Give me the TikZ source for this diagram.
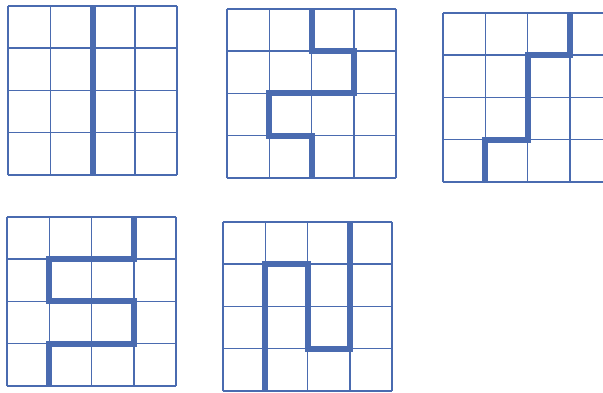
\documentclass[tikz,border=0pt]{standalone}
\usepackage{xcolor}
\definecolor{gridblue}{HTML}{4A6BB0}

\begin{document}
\begin{tikzpicture}[x=1pt, y=1pt,
  cellgrid/.style={draw=gridblue, line width=1.5pt},
  route/.style={draw=gridblue, line width=6pt, line join=miter}
]
\useasboundingbox (0,0) rectangle (603,392);

% five 4x4 boards, lower left corners
\foreach \bx/\by [count=\k] in {8/217, 227/214, 443/210, 7/6, 223/1} {
  \begin{scope}[shift={(\bx,\by)}, x=42.3pt, y=42.3pt]
    \foreach \i in {0,...,4} {
      \draw[cellgrid] (\i,0) -- (\i,4);
      \draw[cellgrid] (0,\i) -- (4,\i);
    }
    \coordinate (b\k) at (0,0);
  \end{scope}
}

% routes
\begin{scope}[shift={(b1)}, x=42.3pt, y=42.3pt]
  \draw[route] (2,4) -- (2,0);
\end{scope}
\begin{scope}[shift={(b2)}, x=42.3pt, y=42.3pt]
  \draw[route] (2,4) -- (2,3) -- (3,3) -- (3,2) -- (1,2) -- (1,1) -- (2,1) -- (2,0);
\end{scope}
\begin{scope}[shift={(b3)}, x=42.3pt, y=42.3pt]
  \draw[route] (3,4) -- (3,3) -- (2,3) -- (2,1) -- (1,1) -- (1,0);
\end{scope}
\begin{scope}[shift={(b4)}, x=42.3pt, y=42.3pt]
  \draw[route] (3,4) -- (3,3) -- (1,3) -- (1,2) -- (3,2) -- (3,1) -- (1,1) -- (1,0);
\end{scope}
\begin{scope}[shift={(b5)}, x=42.3pt, y=42.3pt]
  \draw[route] (3,4) -- (3,1) -- (2,1) -- (2,3) -- (1,3) -- (1,0);
\end{scope}

\end{tikzpicture}
\end{document}
